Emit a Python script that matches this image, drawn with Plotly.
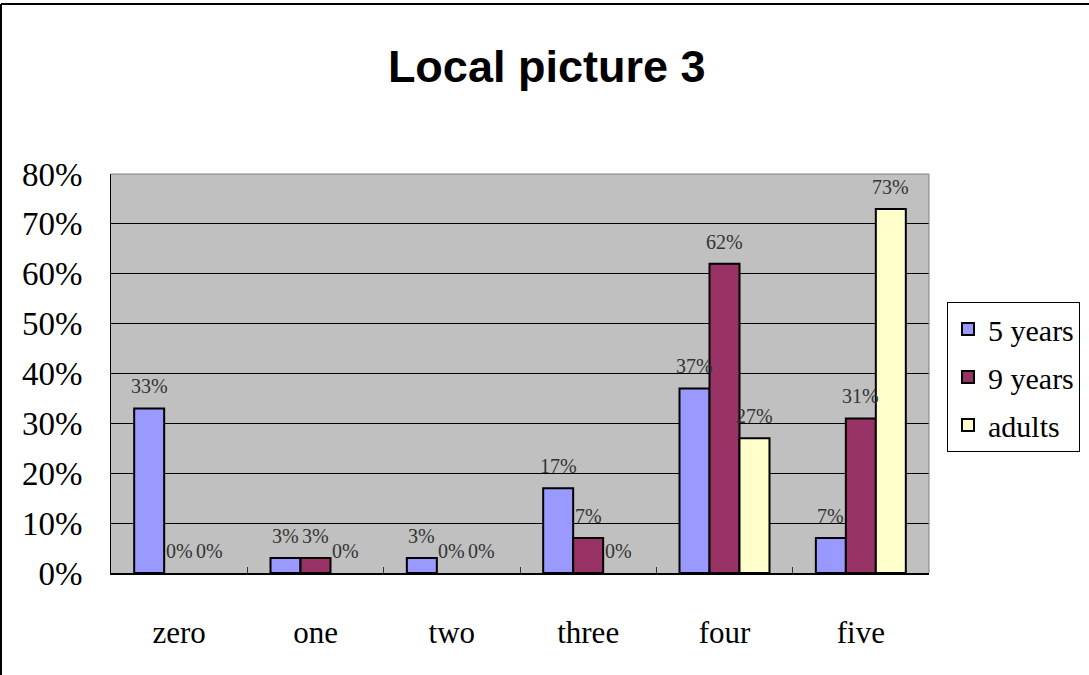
import plotly.graph_objects as go

categories = ["zero", "one", "two", "three", "four", "five"]
series_names = ["5 years", "9 years", "adults"]
five_years = [0.33, 0.03, 0.03, 0.17, 0.37, 0.07]
nine_years = [0.00, 0.03, 0.00, 0.07, 0.62, 0.31]
adults = [0.00, 0.00, 0.00, 0.00, 0.27, 0.73]
colors = ["#9999FF", "#993366", "#FFFFCC"]
y_ticks = [0, 0.1, 0.2, 0.3, 0.4, 0.5, 0.6, 0.7, 0.8]

all_series = [five_years, nine_years, adults]
serif = "Liberation Serif, Times New Roman, serif"

fig = go.Figure()
for name, vals, col in zip(series_names, all_series, colors):
    fig.add_trace(go.Bar(
        x=categories, y=[v if v > 0 else None for v in vals], name=name, legendgroup=name,
        marker=dict(color=col, line=dict(color="black", width=2)),
    ))

# data labels
shifts = [-30, 0, 30]
for vals, xs in zip(all_series, shifts):
    for c, v in zip(categories, vals):
        fig.add_annotation(
            x=c, y=v, text=f"{round(v*100)}%", showarrow=False,
            xshift=xs, yshift=9, yanchor="bottom",
            font=dict(family=serif, size=20, color="#333333"),
        )

L, R, T, B = 111, 160, 174, 102
W, H = 1089, 675
pw, ph = W - L - R, H - T - B

fig.update_layout(
    width=W, height=H,
    margin=dict(l=L, r=R, t=T, b=B, pad=0, autoexpand=False),
    paper_bgcolor="white", plot_bgcolor="#C0C0C0",
    barmode="group", bargap=0.34, bargroupgap=0,
    title=dict(text="<b>Local picture 3</b>", x=0.502, xanchor="center",
               y=1 - 66 / H, yanchor="middle",
               font=dict(family="Liberation Sans, Arial, sans-serif", size=45, color="black")),
    legend=dict(x=(947 - L) / pw, xanchor="left", y=(H - B - 302) / ph, yanchor="top",
                bordercolor="black", borderwidth=1, bgcolor="white",
                font=dict(family=serif, size=30, color="black"),
                tracegroupgap=6, itemwidth=30),
    showlegend=True,
)
fig.update_xaxes(
    type="category", showgrid=False, showline=True, linecolor="black", linewidth=2,
    ticks="inside", tickson="boundaries", ticklen=6, tickcolor="#333333",
    tickfont=dict(family=serif, size=31, color="black"),
    ticklabelstandoff=31,
)
fig.update_yaxes(
    range=[0, 0.8], tickvals=y_ticks, tickformat=".0%",
    showgrid=True, gridcolor="black", gridwidth=1,
    showline=True, linecolor="black", linewidth=1,
    ticks="", tickfont=dict(family=serif, size=33, color="black"),
    ticklabelstandoff=21, zeroline=False,
)
# plot-area top/right border (gray)
fig.add_shape(type="line", xref="paper", yref="paper", x0=0, x1=1, y0=1, y1=1,
              line=dict(color="#808080", width=1))
fig.add_shape(type="line", xref="paper", yref="paper", x0=1, x1=1, y0=0, y1=1,
              line=dict(color="#808080", width=1))
# outer chart border (top and left visible)
fig.add_shape(type="line", xref="paper", yref="paper",
              x0=(1 - L) / pw, x1=(W - L) / pw, y0=(H - B - 4) / ph, y1=(H - B - 4) / ph,
              line=dict(color="black", width=2))
fig.add_shape(type="line", xref="paper", yref="paper",
              x0=(1 - L) / pw, x1=(1 - L) / pw, y0=(H - B - 4) / ph, y1=-B / ph,
              line=dict(color="black", width=2))

fig.write_html("out.html")
